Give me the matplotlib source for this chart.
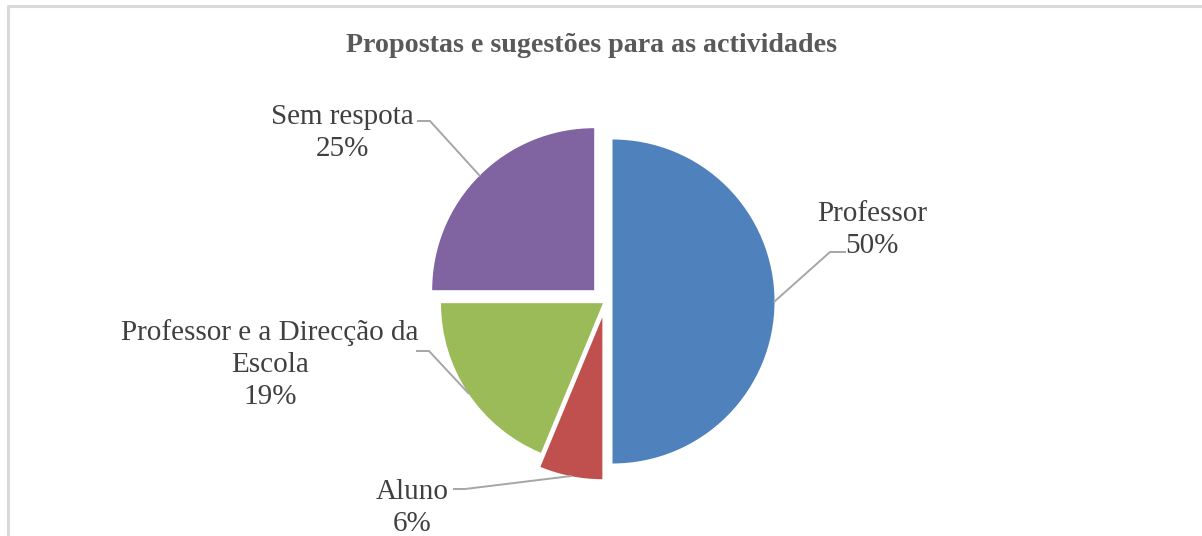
import numpy as np
import matplotlib.pyplot as plt

# data
labels = ['Professor', 'Aluno', 'Professor e a Direcção da\nEscola', 'Sem respota']
counts = [8, 1, 3, 4]
colors = ['#4F81BD', '#C0504D', '#9BBB59', '#8064A2']
explode = [7, 16, 3, 16]   # offsets in pixels (pie radius is 162)
title = 'Propostas e sugestões para as actividades'

W, H = 1202, 536
plt.rcParams['font.family'] = ['Liberation Serif', 'DejaVu Serif']

fig = plt.figure(figsize=(W / 100, H / 100), dpi=100)
ax = fig.add_axes([0, 0, 1, 1])


def px(x, y):
    # pixel position (top-left origin) -> data coords
    return x, H - y


cx, cy = px(605.5, 301.5)
wedges, _ = ax.pie(counts, explode=explode, colors=colors, startangle=90,
                   counterclock=False, radius=162, center=(cx, cy),
                   wedgeprops=dict(linewidth=0))
ax.set_xlim(0, W)
ax.set_ylim(0, H)
ax.set_aspect('equal')
ax.axis('off')

total = sum(counts)
# label centre, elbow of leader line, end of leader line (pixels)
layout = [
    ((872, 230), (830, 252), (845, 252)),
    ((412, 508), (465, 489), (454, 489)),
    ((270, 365), (429, 351), (417, 351)),
    ((342, 133), (430, 121), (418, 121)),
]

for w, lab, n, (pos, elbow, end) in zip(wedges, labels, counts, layout):
    mid = np.deg2rad((w.theta1 + w.theta2) / 2)
    sx = w.center[0] + w.r * np.cos(mid)
    sy = w.center[1] + w.r * np.sin(mid)
    ex, ey = px(*elbow)
    tx, ty = px(*end)
    ax.plot([sx, ex, tx], [sy, ey, ty], color='#A6A6A6', lw=1.4,
            solid_joinstyle='miter')
    ax.text(*px(*pos), f'{lab}\n{round(100 * n / total)}%', ha='center',
            va='center', multialignment='center', fontsize=21,
            color='#404040', linespacing=1.3)

ax.text(*px(592, 46), title, ha='center', va='center', fontsize=20.2,
        fontweight='bold', color='#595959')

# chart frame (only top and left edges are visible)
fx, fy = zip(px(8, H + 10), px(8, 6), px(W + 10, 6))
ax.plot(fx, fy, color='#D9D9D9', lw=2.2, clip_on=False)

fig.savefig('out.png', dpi=100)
